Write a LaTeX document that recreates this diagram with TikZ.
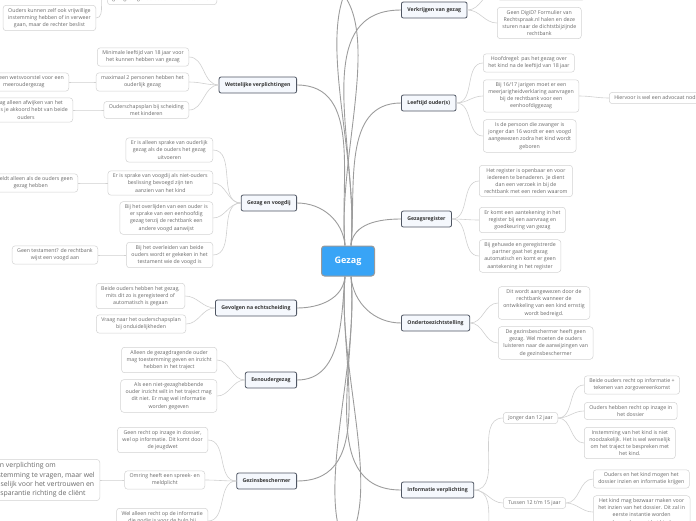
\documentclass[tikz,border=0pt]{standalone}
\usepackage{fontspec}
\setmainfont{Open Sans}
\usepackage{tikz}
\usepackage{xcolor}

\definecolor{blauw}{HTML}{38A4F6}
\definecolor{randgrijs}{HTML}{D2D2D2}
\definecolor{tekstgrijs}{HTML}{6A6A6A}
\definecolor{takrand}{HTML}{4F5663}
\definecolor{takvul}{HTML}{F5F8FD}
\definecolor{taklijngrijs}{HTML}{9C9C9C}
\definecolor{bladlijngrijs}{HTML}{D0D0D0}

\begin{document}
\begin{tikzpicture}[x=1pt,y=1pt,
  hoofd/.style={draw=gray!80, line width=1pt, fill=blauw, rounded corners=3pt, text=white,
    font=\fontsize{9}{10}\selectfont\bfseries, minimum width=53pt, minimum height=30pt},
  tak/.style={draw=takrand, line width=0.8pt, rounded corners=2pt, fill=takvul, text=black!80,
    font=\fontsize{5.2}{6}\selectfont\bfseries, inner xsep=6pt, minimum height=16pt},
  blad/.style={draw=randgrijs, line width=0.5pt, rounded corners=3pt, fill=white, text=tekstgrijs,
    font=\fontsize{5.25}{7.1}\selectfont, align=center, inner xsep=5pt, inner ysep=3pt},
  taklijn/.style={draw=taklijngrijs, line width=0.9pt},
  bladlijn/.style={draw=bladlijngrijs, line width=0.6pt}]
  \useasboundingbox (0,0) rectangle (696,-520);
  \clip (0,0) rectangle (696,-520);

  % midden
  \node[hoofd] (gezag) at (348,-261) {Gezag};

  % takken links en rechts
  \foreach \n/\y/\t in {wet/85/{Wettelijke verplichtingen},voogdij/203/{Gezag en voogdij},
      echt/308/{Gevolgen na echtscheiding},eenouder/380/{Eenoudergezag},gezinsb/481/{Gezinsbeschermer}}{
    \node[tak,anchor=east] (\n) at (297,-\y) {\t};
  }
  \foreach \n/\y/\t in {verkrijgen/10/{Verkrijgen van gezag},leeftijd/103/{Leeftijd ouder(s)},
      register/219/{Gezagsregister},ots/323/{Ondertoezichtstelling},info/490/{Informatie verplichting}}{
    \node[tak,anchor=west] (\n) at (401,-\y) {\t};
  }
  % takken buiten beeld
  \coordinate (erkenning-o) at (297,25);
  \coordinate (erkenning-w) at (240,25);
  \coordinate (onder-l) at (297,-565);
  \coordinate (boven-r) at (401,40);
  \coordinate (onder-r) at (401,-575);
  \coordinate (info-3) at (503,-565);

  % bladeren links
  \foreach \n/\x/\y/\t in {
      tb/217/-8/{Gezamenlijk gezag aanvragen kan als\\de andere ouder erkend heeft en de\\gezagsdragende ouder moet instemmen},
      ok/96/18/{Ouders kunnen zelf ook vrijwillige\\instemming hebben of in verweer\\gaan, maar de rechter beslist},
      w1/189/57/{Minimale leeftijd van 18 jaar voor\\het kunnen hebben van gezag},
      w2/189/82/{maximaal 2 personen hebben het\\ouderlijk gezag},
      w3/189/110/{Ouderschapsplan bij scheiding\\met kinderen},
      w2a/69/82/{Er ligt een wetsvoorstel voor een\\meeroudergezag},
      w3a/73/110/{Je mag alleen afwijken van het\\plan als je akkoord hebt van beide\\ouders},
      v1/213/150/{Er is alleen sprake van ouderlijk\\gezag als de ouders het gezag\\uitvoeren},
      v2/213/183/{Er is sprake van voogdij als niet-ouders\\beslissing bevoegd zijn ten\\aanzien van het kind},
      v3/213/218/{Bij het overlijden van een ouder is\\er sprake van een eenhoofdig\\gezag tenzij de rechtbank een\\andere voogd aanwijst},
      v4/213/255/{Bij het overleiden van beide\\ouders wordt er gekeken in het\\testament wie de voogd is},
      v2a/78/183/{Dit geldt alleen als de ouders geen\\gezag hebben},
      v4a/98/255/{Geen testament? de rechtbank\\wijst een voogd aan},
      e1/185/296/{Beide ouders hebben het gezag,\\mits dit zo is geregisteerd of\\automatisch is gegaan},
      e2/186/324/{Vraag naar het ouderschapsplan\\bij onduidelijkheden},
      o1/217/360/{Alleen de gezagdragende ouder\\mag toestemming geven en inzicht\\hebben in het traject},
      o2/217/396/{Als een niet-gezaghebbende\\ouder inzicht wilt in het traject mag\\dit niet. Er mag wel informatie\\worden gegeven},
      g1/208/440/{Geen recht op inzage in dossier,\\wel op informatie. Dit komt door\\de jeugdwet},
      g2/205/480/{Omring heeft een spreek- en\\meldplicht},
      g3/208/521/{Wel alleen recht op de informatie\\die nodig is voor de hulp bij\\het gezin}}{
    \node[blad,anchor=east] (\n) at (\x,-\y) {\t};
  }
  \node[blad,anchor=east,align=left,font=\fontsize{6.9}{9.4}\selectfont] (g2a) at (100,-480)
    {Geen verplichting om\\toestemming te vragen, maar wel\\wenselijk voor het vertrouwen en\\transparantie richting de cliënt};

  % bladeren rechts
  \foreach \n/\x/\y/\t in {
      k0/497/-9/{Met DigiD een verzoek indienen\\via Rechtspraak.nl},
      k1/497/23/{Geen DigiD? Formulier van\\Rechtspraak.nl halen en deze\\sturen naar de dichtstbijzijnde\\rechtbank},
      l1/483/63/{Hoofdregel: pas het gezag over\\het kind na de leeftijd van 18 jaar},
      l2/483/96/{Bij 16/17 jarigen moet er een\\meerjarigheidverklaring aanvragen\\bij de rechtbank voor een\\eenhoofdiggezag},
      l2a/609/98/{Hiervoor is wel een advocaat nodig},
      l3/483/136/{Is de persoon die zwanger is\\jonger dan 16 wordt er een voogd\\aangewezen zodra het kind wordt\\geboren},
      r1/479/181/{Het register is openbaar en voor\\iedereen te benaderen. Je dient\\dan een verzoek in bij de\\rechtbank met een reden waarom},
      r2/479/220/{Er komt een aantekening in het\\register bij een aanvraag en\\goedkeuring van gezag},
      r3/479/256/{Bij gehuwde en geregistrerde\\partner gaat het gezag\\automatisch en komt er geen\\aantekening in het register},
      t1/498/303/{Dit wordt aangewezen door de\\rechtbank wanneer de\\ontwikkeling van een kind ernstig\\wordt bedreigd.},
      t2/498/343/{De gezinsbeschermer heeft geen\\gezag. Wel moeten de ouders\\luisteren naar de aanwijzingen van\\de gezinsbeschermer},
      i1/503/418/{Jonger dan 12 jaar},
      i2/503/503/{Tussen 12 t/m 15 jaar},
      i1a/584/385/{Beide ouders recht op informatie +\\tekenen van zorgovereenkomst},
      i1b/584/411/{Ouders hebben recht op inzage in\\het dossier},
      i1c/584/443/{Instemming van het kind is niet\\noodzakelijk. Het is wel wenselijk\\om het traject te bespreken met\\het kind.},
      i2a/593/479/{Ouders en het kind mogen het\\dossier inzien en informatie krijgen},
      i2b/593/512/{Het kind mag bezwaar maken voor\\het inzien van het dossier. Dit zal in\\eerste instantie worden\\besproken met het kind}}{
    \node[blad,anchor=west] (\n) at (\x,-\y) {\t};
  }

  % verbindingen vanuit het midden
  \foreach \b in {wet,voogdij}{ \draw[taklijn] ([xshift=-3pt]gezag.north) to[out=95,in=0] (\b.east); }
  \foreach \b in {echt,eenouder,gezinsb}{ \draw[taklijn] ([xshift=-3pt]gezag.south) to[out=-95,in=0] (\b.east); }
  \foreach \b in {verkrijgen,leeftijd,register}{ \draw[taklijn] ([xshift=3pt]gezag.north) to[out=85,in=180] (\b.west); }
  \foreach \b in {ots,info}{ \draw[taklijn] ([xshift=3pt]gezag.south) to[out=-85,in=180] (\b.west); }
  \draw[taklijn] ([xshift=-3pt]gezag.north) to[out=95,in=0] (erkenning-o);
  \draw[taklijn] ([xshift=-3pt]gezag.south) to[out=-95,in=0] (onder-l);
  \draw[taklijn] ([xshift=3pt]gezag.north) to[out=85,in=180] (boven-r);
  \draw[taklijn] ([xshift=3pt]gezag.south) to[out=-85,in=180] (onder-r);

  % verbindingen naar de bladeren
  \draw[bladlijn] (erkenning-w) to[out=180,in=0] (tb.east);
  \foreach \a/\b in {tb/ok,wet/w1,wet/w2,wet/w3,w2/w2a,w3/w3a,voogdij/v1,voogdij/v2,voogdij/v3,voogdij/v4,
      v2/v2a,v4/v4a,echt/e1,echt/e2,eenouder/o1,eenouder/o2,gezinsb/g1,gezinsb/g2,gezinsb/g3,g2/g2a}{
    \draw[bladlijn] (\a.west) to[out=180,in=0] (\b.east);
  }
  \foreach \a/\b in {verkrijgen/k0,verkrijgen/k1,leeftijd/l1,leeftijd/l2,leeftijd/l3,l2/l2a,
      register/r1,register/r2,register/r3,ots/t1,ots/t2,info/i1,info/i2,
      i1/i1a,i1/i1b,i1/i1c,i2/i2a,i2/i2b}{
    \draw[bladlijn] (\a.east) to[out=0,in=180] (\b.west);
  }
  \draw[bladlijn] (info.east) to[out=0,in=180] (info-3);
\end{tikzpicture}
\end{document}
